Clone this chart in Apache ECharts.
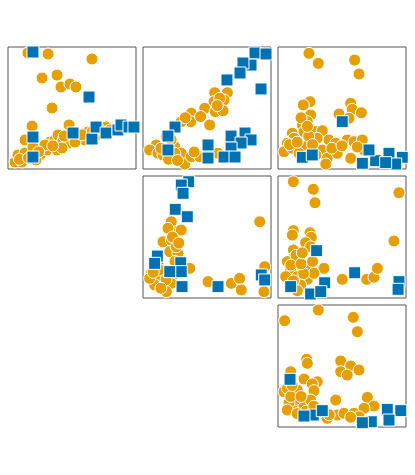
<!DOCTYPE html>
<html lang="en">
<head>
    <meta charset="UTF-8">
    <title>pairs</title>
    <script type="text/javascript" src="https://cdn.jsdelivr.net/npm/echarts@6/dist/echarts.min.js"></script>
</head>
<body style="margin:0;background:#fff;">
<div id="chart" style="width: 415px;height:475px;"></div>
<script>
    // values, 0-100 scale per panel
    var p1Orange = [[15.6,95.1],[31.3,94.3],[65.6,90.2],[26.6,74.6],[38.3,77.0],[41.4,67.2],[48.4,69.7],[53.1,67.2],[34.4,50.0],
        [18.8,35.2],[47.7,36.1],[76.6,34.4],[13.3,23.8],[5.5,5.7],[10.9,5.7],[7.8,11.5],[13.3,13.1],[19.5,18.0],[25.0,11.5],
        [30.5,15.6],[32.8,22.1],[36.7,23.8],[39.1,27.9],[43.0,23.8],[38.3,15.6],[46.9,21.3],[50.0,27.9],[56.3,25.4],[60.2,23.8],
        [69.5,27.9],[75.8,29.5],[21.9,7.4],[28.9,19.7],[42.2,17.2],[52.3,22.1],[62.5,30.3],[79.7,32.0],
        [9,8],[16,9],[24,14],[35,19],[44,27],[58,28],[66,31],[71,33]];
    var p1Blue = [[19.5,95.9],[63.3,59.0],[19.5,26.2],[19.5,9.8],[50.8,29.5],[65.6,24.6],[68.8,34.4],[76.6,29.5],[85.9,32.0],
        [88.3,36.1],[94.5,34.4],[98.4,34.4]];

    var p2Orange = [[66.4,73.8],[56.0,62.5],[65.9,62.5],[63.3,56.6],[55.5,55.2],[48.2,49.8],[56.5,47.0],[62.5,47.8],[52.1,36.1],
        [37.7,45.7],[37.3,38.8],[29.9,38.8],[18.2,26.5],[10.4,19.7],[5.2,15.6],[11.7,12.9],[24.8,18.3],[29.9,12.9],[32.6,4.1],
        [37.7,10.1],[44.3,10.1],[50.8,14.2],[58.6,12.9],[24.8,12.9],[15.6,11.5],
        [60,58],[58,52],[45,43],[33,42],[22,24],[14,17],[20,8],[40,14],[27,7]];
    var p2Blue = [[87.5,95.1],[96.1,94.3],[84.4,85.2],[78.1,86.9],[75.8,78.7],[65.6,73.0],[92.2,65.6],[25.0,34.4],[19.5,27.0],
        [19.5,15.6],[50.8,19.7],[50.8,9.0],[68.8,27.0],[79.7,29.5],[84.4,23.8],[76.6,21.3],[68.8,17.2],[63.3,9.8],[71.9,9.8]];

    var p3Orange = [[24.2,94.8],[31.5,86.6],[59.9,89.3],[63.3,77.9],[25.0,55.2],[19.8,52.5],[25.5,44.3],[22.9,38.8],[56.8,53.9],
        [58.0,48.9],[65.1,46.1],[47.7,45.1],[55.5,41.6],[19.0,36.1],[11.2,29.3],[20.3,30.6],[29.5,30.6],[34.6,31.4],[12.5,25.2],
        [7.3,21.1],[4.7,14.2],[11.2,17.0],[21.6,18.3],[30.7,25.2],[39.8,23.8],[45.1,21.1],[34.6,15.6],[38.5,8.8],[46.3,12.9],
        [54.1,23.8],[59.4,22.4],[65.9,23.8],[56.8,8.8],[67.2,15.6],[29.5,11.5],[16.4,12.9],[37.3,4.1],
        [9,20],[15,22],[24,27],[27,20],[42,17],[50,19],[62,18],[18,42],[23,35]];
    var p3Blue = [[50.2,38.8],[19.0,9.6],[26.8,11.5],[65.9,4.7],[76.3,6.8],[86.7,12.9],[97.1,9.6],[92.0,4.1],[84.1,5.2],[71.1,15.6]];

    var p4Orange = [[91.2,62.5],[22.1,62.5],[26.0,54.3],[29.9,55.7],[19.5,57.1],[15.6,46.1],[22.1,47.5],[20.9,38.0],[27.3,36.6],
        [26.0,42.0],[11.7,28.4],[6.5,20.2],[10.4,17.5],[17.0,21.6],[23.4,18.9],[22.1,12.0],[18.2,5.2],[9.1,10.7],[5.2,16.1],
        [36.5,24.3],[50.8,13.4],[69.0,12.0],[75.5,16.1],[76.8,6.6],[95.1,25.7],[94.5,5.2],
        [13,23],[18,15],[25,30],[23,50],[28,45],[8,21],[14,8]];
    var p4Blue = [[35.7,95.3],[29.9,92.6],[31.3,85.8],[25.2,72.7],[34.6,66.6],[11.2,34.4],[9.1,28.4],[29.5,28.9],[29.9,21.6],
        [20.9,21.6],[30.5,9.3],[58.6,9.3],[92.4,18.9],[95.1,14.8]];

    var p5Orange = [[12.0,95.3],[27.6,89.1],[28.9,78.1],[94.5,86.3],[90.6,46.7],[12.0,55.2],[11.2,51.6],[25.0,53.5],[26.0,49.8],
        [21.6,45.3],[12.0,39.3],[25.5,42.0],[12.5,33.4],[7.3,29.8],[17.7,27.0],[9.9,23.0],[6.0,17.5],[15.1,17.5],[22.9,23.0],
        [22.9,15.3],[17.7,10.7],[35.9,24.3],[50.2,15.3],[69.3,15.3],[75.0,17.0],[77.6,24.3],[28.1,20.2],[15.1,6.0],
        [14,35],[10,27],[20,20],[18,28],[12,14],[27,30],[19,37]];
    var p5Blue = [[30.2,38.8],[59.9,20.7],[9.9,9.3],[36.5,12.5],[25.5,3.3],[33.4,5.2],[94.5,13.4],[93.8,7.1]];

    var p6Orange = [[5.2,87.1],[31.5,95.9],[58.8,89.9],[62.0,78.1],[22.4,55.5],[22.9,52.2],[49.0,54.1],[56.8,50.0],[63.3,46.7],
        [49.0,45.3],[54.1,42.6],[9.9,45.3],[20.3,39.3],[30.7,37.1],[26.8,35.2],[4.7,28.9],[7.3,31.7],[15.1,30.3],[28.1,29.8],
        [45.1,22.1],[69.8,24.3],[75.0,17.2],[67.2,15.3],[12.5,16.6],[20.3,17.2],[13.8,22.7],[8.6,19.9],[7.3,13.9],[25.5,22.1],
        [35.9,12.5],[38.5,7.1],[46.3,9.8],[51.6,11.2],[59.4,11.2],[63.3,8.4],[56.8,8.0],
        [10,25],[18,25],[22,13],[15,11],[31,15],[40,10],[11,34],[28,17]];
    var p6Blue = [[9.4,39.1],[27.6,9.8],[34.6,13.4],[20.3,9.0],[85.4,14.5],[95.9,13.4],[72.9,4.3],[65.9,3.5],[86.7,5.7]];

    var panels = [
        {left: 8, top: 47, orange: p1Orange, blue: p1Blue},
        {left: 143, top: 47, orange: p2Orange, blue: p2Blue},
        {left: 278, top: 47, orange: p3Orange, blue: p3Blue},
        {left: 143, top: 176, orange: p4Orange, blue: p4Blue},
        {left: 278, top: 176, orange: p5Orange, blue: p5Blue},
        {left: 278, top: 305, orange: p6Orange, blue: p6Blue}
    ];

    var grids = [], xAxes = [], yAxes = [], series = [];
    panels.forEach(function (p, i) {
        grids.push({
            left: p.left, top: p.top, width: 128, height: 122,
            show: true, borderColor: '#555', borderWidth: 1, backgroundColor: '#fff'
        });
        xAxes.push({gridIndex: i, type: 'value', min: 0, max: 100, show: false});
        yAxes.push({gridIndex: i, type: 'value', min: 0, max: 100, show: false});
        series.push({
            type: 'scatter', xAxisIndex: i, yAxisIndex: i, data: p.orange,
            symbol: 'circle', symbolSize: 12,
            itemStyle: {color: '#E69F00', borderColor: '#fff', borderWidth: 1, opacity: 1}
        });
        series.push({
            type: 'scatter', xAxisIndex: i, yAxisIndex: i, data: p.blue,
            symbol: 'rect', symbolSize: 12,
            itemStyle: {color: '#0072B2', borderColor: '#fff', borderWidth: 1, opacity: 1}
        });
    });

    var myChart = echarts.init(document.getElementById('chart'));
    myChart.setOption({
        animation: false,
        grid: grids,
        xAxis: xAxes,
        yAxis: yAxes,
        series: series
    });
</script>
</body>
</html>
